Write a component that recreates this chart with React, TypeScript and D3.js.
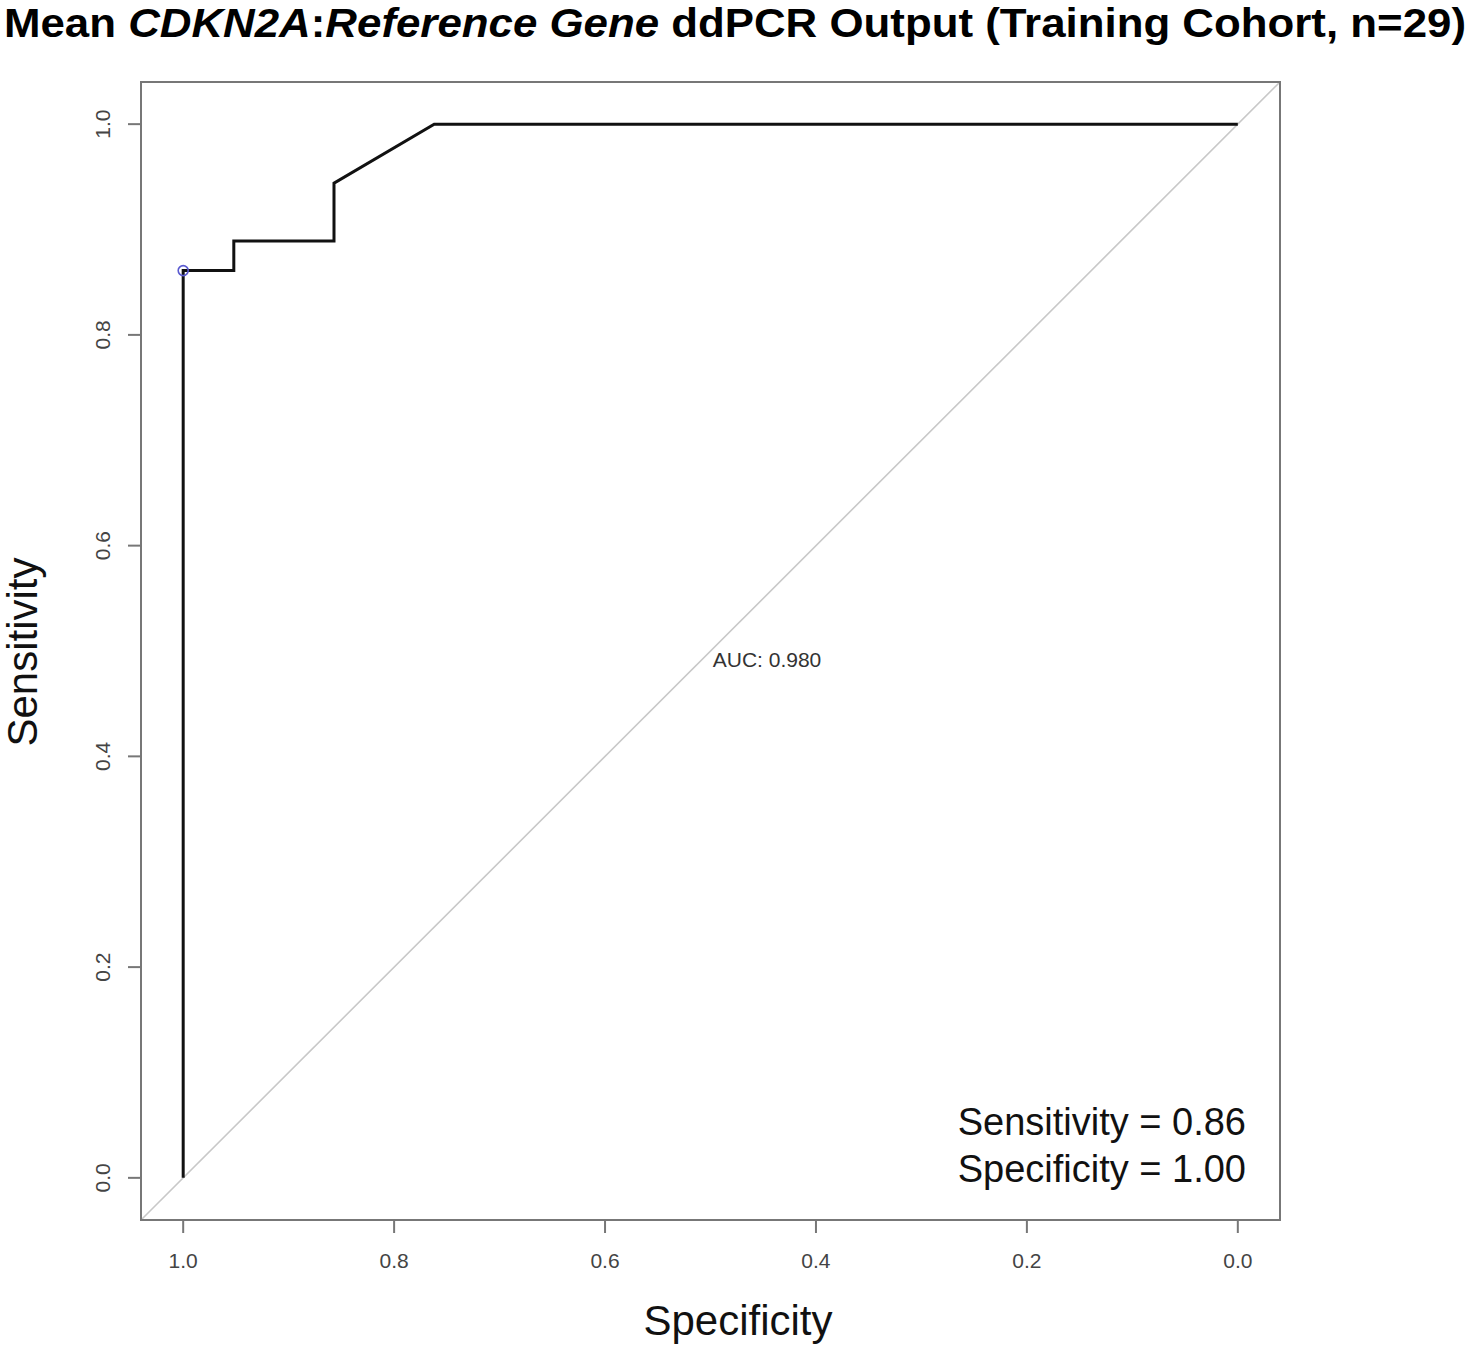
import React from "react";
import * as d3 from "d3";

// ROC curve points (specificity, sensitivity)
const specificity = [1, 1, 0.952, 0.952, 0.857, 0.857, 0.762, 0];
const sensitivity = [0, 0.861, 0.861, 0.889, 0.889, 0.944, 1, 1];
const bestPoint = { spec: 1.0, sens: 0.861 };
const tickValues = [1.0, 0.8, 0.6, 0.4, 0.2, 0.0];
const aucLabel = "AUC: 0.980";
const statLines = ["Sensitivity = 0.86", "Specificity = 1.00"];

const W = 1472;
const H = 1348;
const left = 141;
const right = 1280;
const top = 82;
const bottom = 1220;

const App = () => {
  const x = d3.scaleLinear().domain([1.04, -0.04]).range([left, right]);
  const y = d3.scaleLinear().domain([-0.04, 1.04]).range([bottom, top]);

  const pts = specificity.map((s, i) => [s, sensitivity[i]] as [number, number]);
  const line = d3
    .line<[number, number]>()
    .x((d) => x(d[0]))
    .y((d) => y(d[1]));

  const font = "'Liberation Sans', Arial, sans-serif";

  return (
    <svg
      width={W}
      height={H}
      style={{ position: "absolute", left: 0, top: 0, background: "#fff" }}
      fontFamily={font}
    >
      {/* title, condensed like the original */}
      <text
        x={4}
        y={37}
        fontSize={40}
        fontWeight="bold"
        textLength={1462}
        lengthAdjust="spacingAndGlyphs"
      >
        <tspan>Mean </tspan>
        <tspan fontStyle="italic">CDKN2A</tspan>
        <tspan>:</tspan>
        <tspan fontStyle="italic">Reference Gene</tspan>
        <tspan> ddPCR Output (Training Cohort, n=29)</tspan>
      </text>

      {/* diagonal reference */}
      <line
        x1={x(1.04)}
        y1={y(-0.04)}
        x2={x(-0.04)}
        y2={y(1.04)}
        stroke="#c8c8c8"
        strokeWidth={1.6}
      />

      {/* plot box */}
      <rect
        x={left}
        y={top}
        width={right - left}
        height={bottom - top}
        fill="none"
        stroke="#777"
        strokeWidth={2}
      />

      {/* x ticks */}
      {tickValues.map((t) => (
        <g key={"x" + t}>
          <line x1={x(t)} x2={x(t)} y1={bottom} y2={bottom + 13} stroke="#777" strokeWidth={2} />
          <text x={x(t)} y={1268} fontSize={21} fill="#444" textAnchor="middle">
            {t.toFixed(1)}
          </text>
        </g>
      ))}

      {/* y ticks */}
      {tickValues.map((t) => (
        <g key={"y" + t}>
          <line x1={left - 13} x2={left} y1={y(t)} y2={y(t)} stroke="#777" strokeWidth={2} />
          <text
            transform={`translate(110, ${y(t)}) rotate(-90)`}
            fontSize={21}
            fill="#444"
            textAnchor="middle"
          >
            {t.toFixed(1)}
          </text>
        </g>
      ))}

      {/* ROC curve */}
      <path d={line(pts) ?? ""} fill="none" stroke="#111" strokeWidth={3} />
      <circle
        cx={x(bestPoint.spec)}
        cy={y(bestPoint.sens)}
        r={5}
        fill="none"
        stroke="#5a5ad0"
        strokeWidth={1.6}
      />

      <text x={767} y={667} fontSize={21} fill="#333" textAnchor="middle">
        {aucLabel}
      </text>

      {statLines.map((s, i) => (
        <text key={s} x={1246} y={1135 + i * 47} fontSize={38} fill="#111" textAnchor="end">
          {s}
        </text>
      ))}

      {/* axis labels */}
      <text x={738} y={1335} fontSize={42} fill="#111" textAnchor="middle">
        Specificity
      </text>
      <text
        transform="translate(37, 652) rotate(-90)"
        fontSize={42}
        fill="#111"
        textAnchor="middle"
      >
        Sensitivity
      </text>
    </svg>
  );
};

export default App;
